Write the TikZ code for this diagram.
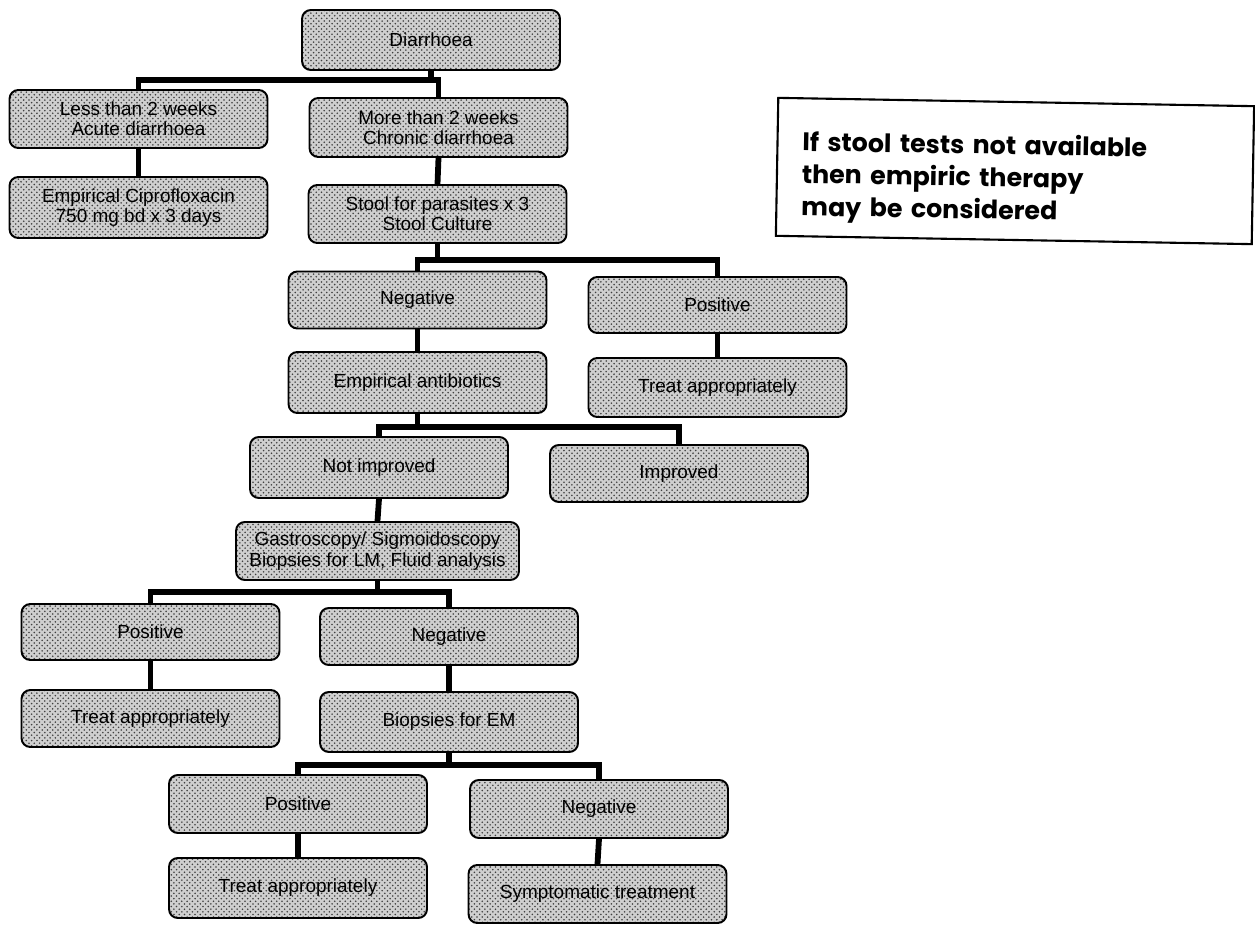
\documentclass[tikz,border=0pt]{standalone}
\usepackage{fontspec}
\setmainfont{Liberation Sans}
\newfontfamily\notefont{Poppins}
\usetikzlibrary{patterns}
\tikzset{
  box/.style={draw=black, line width=1.1pt, rounded corners=5pt,
    preaction={fill=gray!38}, pattern=crosshatch dots, pattern color=black!75,
    minimum width=5.16cm, minimum height=#1, align=center, inner sep=1pt,
    font=\fontsize{10.8}{11.6}\selectfont},
  box/.default=1.16cm,
  conn/.style={line width=3.3pt, line join=miter},
  notebox/.style={draw=black, line width=1.2pt, minimum width=9.52cm, minimum height=2.76cm,
    text width=8.52cm, align=left, inner sep=0pt,
    font=\notefont\bfseries\fontsize{14.4}{18.4}\selectfont}
}
\begin{document}
\begin{tikzpicture}[x=0.02cm, y=-0.02cm]
\useasboundingbox (0,0) rectangle (1255,925);
% nodes
\node[box=1.2cm] (dia) at (431,40) {Diarrhoea};
\node[box] (less) at (138.5,119) {Less than 2 weeks\\Acute diarrhoea};
\node[box=1.18cm] (more) at (438.5,127.5) {More than 2 weeks\\Chronic diarrhoea};
\node[box=1.22cm] (cipro) at (138.5,207.5) {Empirical Ciprofloxacin\\750 mg bd x 3 days};
\node[box] (stool) at (437.5,214) {Stool for parasites x 3\\Stool Culture};
\node[box=1.14cm] (neg1) at (417.5,300) {Negative};
\node[box=1.12cm] (pos1) at (717.5,305) {Positive};
\node[box=1.22cm] (emp) at (417.5,382.5) {Empirical antibiotics};
\node[box=1.18cm] (treat1) at (717.5,387.5) {Treat appropriately};
\node[box=1.22cm] (notimp) at (379,467.5) {Not improved};
\node[box=1.14cm] (imp) at (679,473.5) {Improved};
\node[box, minimum width=5.66cm] (gastro) at (377.5,551) {Gastroscopy/ Sigmoidoscopy\\Biopsies for LM, Fluid analysis};
\node[box=1.12cm] (pos2) at (150.5,632) {Positive};
\node[box=1.14cm] (neg2) at (449,636.5) {Negative};
\node[box=1.14cm] (treat2) at (150.5,718.5) {Treat appropriately};
\node[box=1.2cm] (biop) at (449,722) {Biopsies for EM};
\node[box] (pos3) at (298,804) {Positive};
\node[box] (neg3) at (599,809) {Negative};
\node[box=1.2cm] (treat3) at (298,888) {Treat appropriately};
\node[box] (symp) at (597.5,894) {Symptomatic treatment};
\node[notebox, rotate=-1] (note) at (1015,171) {\rule{0pt}{22pt}If stool tests not available\\then empiric therapy\\may be considered};
% branch points
\coordinate (b1) at (431,80);
\coordinate (b2) at (437.5,260);
\coordinate (b3) at (417.5,427);
\coordinate (b4) at (377.5,592);
\coordinate (b5) at (449,765);
% connectors
\draw[conn] (dia.south) -- (b1);
\draw[conn] (less.north) |- (b1) -| (more.north);
\draw[conn] (less.south) -- (cipro.north);
\draw[conn] (more.south) -- (stool.north);
\draw[conn] (stool.south) -- (b2);
\draw[conn] (neg1.north) |- (b2) -| (pos1.north);
\draw[conn] (neg1.south) -- (emp.north);
\draw[conn] (pos1.south) -- (treat1.north);
\draw[conn] (emp.south) -- (b3);
\draw[conn] (notimp.north) |- (b3) -| (imp.north);
\draw[conn] (notimp.south) -- (gastro.north);
\draw[conn] (gastro.south) -- (b4);
\draw[conn] (pos2.north) |- (b4) -| (neg2.north);
\draw[conn] (pos2.south) -- (treat2.north);
\draw[conn] (neg2.south) -- (biop.north);
\draw[conn] (biop.south) -- (b5);
\draw[conn] (pos3.north) |- (b5) -| (neg3.north);
\draw[conn] (pos3.south) -- (treat3.north);
\draw[conn] (neg3.south) -- (symp.north);
\end{tikzpicture}
\end{document}
